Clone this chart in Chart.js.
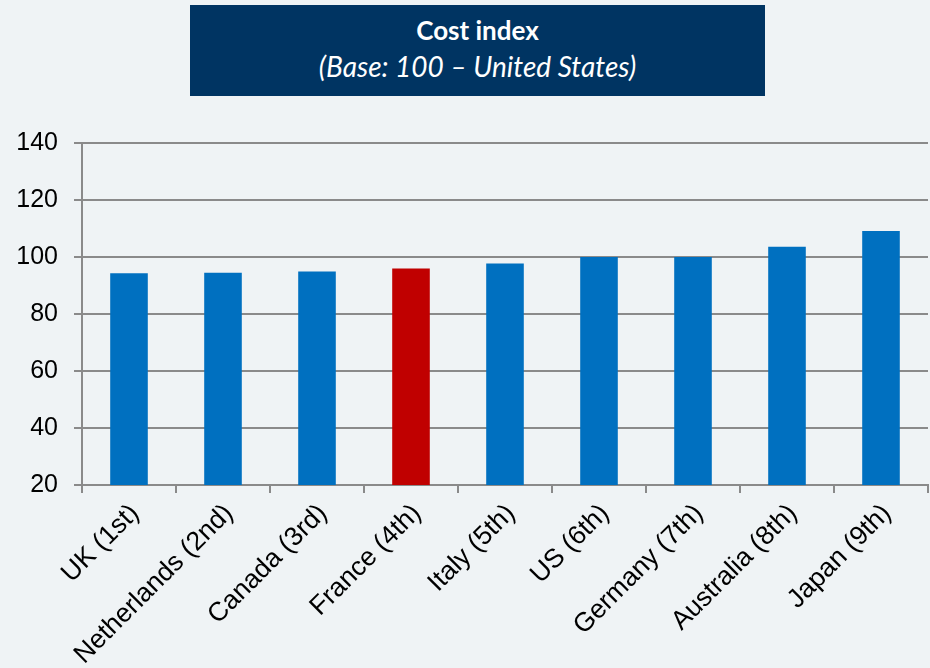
<!DOCTYPE html>
<html>
<head>
<meta charset="utf-8">
<title>Cost index</title>
<script src="https://cdn.jsdelivr.net/npm/chart.js@4/dist/chart.umd.min.js"></script>
<style>
  html, body { margin: 0; padding: 0; background: #eff3f5; overflow: hidden; }
  #wrap { position: relative; width: 930px; height: 668px; }
  #cv { position: absolute; left: 0; top: 0; }
  .titlebox {
    position: absolute; left: 190px; top: 5px; width: 575px; height: 91px;
    background: #003462; color: #fff; text-align: center;
    font-family: Lato, "Open Sans", sans-serif;
  }
  .titlebox div { position: absolute; left: 0; right: 0; line-height: 32px; }
  .t1 { top: 9px; font-size: 26px; font-weight: 700; }
  .t2 { top: 45px; font-size: 28px; font-style: italic; }
</style>
</head>
<body>
<div id="wrap">
  <canvas id="cv" width="930" height="668"></canvas>
  <div class="titlebox"><div class="t1">Cost index</div><div class="t2">(Base: 100 – United States)</div></div>
</div>
<script>
// Countries ranked by cost index (US = 100)
const countries = ["UK (1st)", "Netherlands (2nd)", "Canada (3rd)", "France (4th)", "Italy (5th)",
  "US (6th)", "Germany (7th)", "Australia (8th)", "Japan (9th)"];
const costIndex = [94.3, 94.5, 94.9, 96.0, 97.7, 100.0, 100.0, 103.6, 109.1];
const highlight = "France (4th)";
const yTicks = [20, 40, 60, 80, 100, 120, 140];

const BLUE = "#0070c0", RED = "#c00000", GRID = "#8a8a8a";
const fontFamily = "'Liberation Sans', Arial, sans-serif";

// rotated category labels hang from their top corner, a little right of the tick
const nudgeLabels = {
  id: "nudgeLabels",
  beforeDraw(chart) {
    const x = chart.scales.x;
    x._labelItems = x._computeLabelItems(chart.chartArea);
    x._labelItems.forEach(it => { it.options.translation[0] += 6; });
  },
};

new Chart(document.getElementById("cv"), {
  type: "bar",
  data: {
    labels: countries,
    datasets: [{
      data: costIndex,
      backgroundColor: countries.map(c => c === highlight ? RED : BLUE),
      borderWidth: 0,
      barPercentage: 0.4,
      categoryPercentage: 1.0,
    }],
  },
  options: {
    responsive: false, animation: false,
    layout: { padding: { top: 143, right: 2, left: 0, bottom: 0 } },
    plugins: { legend: { display: false }, tooltip: { enabled: false } },
    scales: {
      y: {
        min: yTicks[0], max: yTicks[yTicks.length - 1],
        afterBuildTicks: s => { s.ticks = yTicks.map(v => ({ value: v })); },
        afterFit: s => { s.width = 82; },
        ticks: { color: "#000", font: { family: fontFamily, size: 25 }, padding: 16 },
        grid: { color: GRID, lineWidth: 2, tickLength: 8 },
        border: { color: GRID, width: 2 },
      },
      x: {
        afterFit: s => { s.height = 183; },
        ticks: { color: "#000", font: { family: fontFamily, size: 26.5 }, minRotation: 45, maxRotation: 45, padding: 5 },
        grid: { drawOnChartArea: false, color: GRID, lineWidth: 2, tickLength: 8 },
        border: { color: GRID, width: 2 },
      },
    },
  },
  plugins: [nudgeLabels],
});
</script>
</body>
</html>
